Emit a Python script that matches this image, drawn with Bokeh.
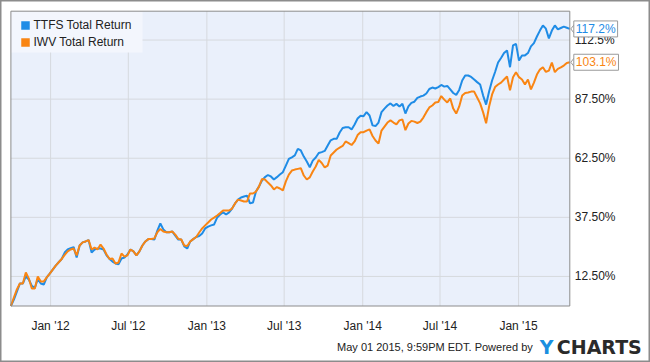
import pandas as pd
from bokeh.plotting import figure
from bokeh.models import Range1d, Label
from bokeh.core.properties import value
from bokeh.embed import file_html
from bokeh.resources import INLINE

# ---------------- data ----------------
start_date = "2011-09-30"   # weekly observations (Fridays)
series_names = ["TTFS Total Return", "IWV Total Return"]

ttfs = [0.0, 2.7, 6.1, 9.5, 9.5, 12.5, 11.2, 8.5, 7.6, 11.4,
        9.5, 9.1, 12.1, 13.7, 15.4, 17.1, 18.5, 19.9, 22.6, 23.9,
        24.5, 24.9, 20.5, 25.6, 26.9, 27.3, 27.9, 22.6, 23.9, 24.3,
        24.3, 23.9, 21.4, 19.9, 18.8, 18.0, 17.6, 20.1, 20.5, 21.8,
        23.9, 23.1, 21.4, 23.1, 25.6, 27.3, 28.3, 28.3, 28.1, 31.9,
        34.9, 32.4, 31.2, 31.2, 31.5, 29.8, 28.1, 28.1, 25.2, 24.3,
        27.3, 28.3, 29.2, 29.6, 30.7, 32.8, 33.6, 34.1, 34.5, 37.4,
        38.7, 39.6, 38.7, 39.6, 41.2, 43.4, 45.0, 45.9, 46.3, 46.7,
        43.4, 43.8, 48.4, 50.5, 53.1, 54.5, 55.4, 54.8, 53.5, 54.5,
        55.6, 56.6, 59.4, 62.2, 62.9, 63.7, 66.5, 65.8, 63.2, 61.1,
        58.7, 61.5, 62.8, 64.7, 65.1, 65.6, 67.9, 70.1, 70.7, 70.7,
        73.4, 75.3, 75.6, 75.6, 74.7, 76.8, 79.3, 80.5, 80.3, 82.0,
        80.6, 76.4, 76.1, 77.6, 82.0, 83.5, 84.8, 85.7, 84.6, 85.5,
        84.4, 85.5, 81.4, 84.4, 85.9, 86.4, 88.0, 88.6, 89.0, 89.9,
        91.8, 92.4, 92.0, 92.6, 93.5, 92.8, 93.1, 91.6, 90.1, 89.3,
        91.4, 95.4, 97.5, 97.5, 96.9, 95.8, 94.7, 93.7, 89.0, 85.2,
        90.7, 95.4, 99.0, 103.0, 104.9, 107.0, 108.1, 101.0, 110.2, 110.9,
        103.8, 106.0, 106.0, 107.0, 109.8, 111.2, 114.0, 116.5, 118.7, 117.3,
        113.2, 116.5, 118.7, 117.0, 117.6, 118.2, 117.7, 117.2]

iwv = [0.0, 3.6, 7.0, 9.5, 9.5, 14.2, 11.6, 7.4, 7.4, 12.5,
       10.4, 10.4, 12.1, 13.7, 15.4, 17.1, 18.5, 19.9, 21.6, 23.1,
       23.9, 24.3, 21.4, 25.6, 26.9, 27.3, 27.9, 23.9, 24.7, 23.9,
       26.0, 24.3, 21.8, 19.9, 20.1, 18.0, 18.4, 22.2, 20.9, 21.4,
       23.9, 23.1, 21.4, 23.1, 25.6, 27.3, 28.3, 28.3, 28.6, 31.2,
       32.6, 31.5, 31.2, 31.2, 31.5, 30.2, 28.4, 28.1, 25.6, 25.4,
       27.3, 28.3, 29.2, 31.1, 32.8, 34.1, 35.3, 36.6, 37.4, 38.3,
       39.3, 40.4, 40.4, 40.4, 41.2, 43.4, 45.0, 44.6, 44.2, 44.2,
       47.6, 47.6, 48.4, 50.5, 53.7, 53.5, 52.2, 51.0, 49.3, 50.3,
       49.7, 48.9, 52.7, 55.6, 57.3, 57.7, 58.0, 58.3, 55.2, 53.5,
       54.4, 56.9, 59.0, 61.8, 60.5, 58.6, 59.4, 63.7, 64.9, 66.2,
       67.0, 67.7, 69.6, 68.9, 68.1, 69.6, 72.3, 73.5, 73.5, 74.2,
       74.7, 71.9, 70.0, 68.7, 74.2, 75.9, 77.6, 78.5, 77.6, 76.8,
       78.5, 78.9, 74.4, 77.2, 78.3, 78.0, 77.4, 78.0, 79.7, 82.0,
       84.0, 84.8, 86.1, 86.3, 88.8, 87.3, 86.1, 87.8, 83.5, 81.4,
       84.4, 89.0, 90.1, 90.3, 90.7, 90.7, 88.2, 85.7, 81.9, 77.3,
       84.4, 89.5, 92.6, 93.7, 94.5, 95.8, 97.1, 91.2, 96.8, 98.9,
       96.8, 95.8, 93.7, 95.8, 91.6, 94.5, 97.9, 100.0, 101.0, 99.0,
       99.6, 103.0, 98.9, 100.3, 100.9, 101.7, 102.8, 103.1]

x_tick_dates = ["2012-01-01", "2012-07-01", "2013-01-01", "2013-07-01",
                "2014-01-01", "2014-07-01", "2015-01-01"]
x_tick_labels = ["Jan '12", "Jul '12", "Jan '13", "Jul '13", "Jan '14", "Jul '14", "Jan '15"]
y_ticks = [12.5, 37.5, 62.5, 87.5, 112.5]
y_tick_labels = ["12.50%", "37.50%", "62.50%", "87.50%", "112.5%"]
y_max = 124.7
footer_text = "May 01 2015, 9:59PM EDT.  Powered by"

# ---------------- layout / style ----------------
W, H = 650, 362
PX_LEFT, PX_RIGHT, PX_TOP, PX_BOTTOM = 10.4, 569.3, 10.7, 305.5   # plot area box in the canvas
BLUE = "#1f8ce6"
ORANGE = "#f98513"
FONT = "Liberation Sans"
TXT = "#222222"
GRID = "#d6d9de"
BORDER = "#8c8c8c"

dates = pd.date_range(start_date, periods=len(ttfs), freq="7D")
tick_dt = [pd.Timestamp(d) for d in x_tick_dates]

x0 = dates[0].timestamp() * 1000
x1 = dates[-1].timestamp() * 1000
ms_per_px = (x1 - x0) / (PX_RIGHT - PX_LEFT)
u_per_px = y_max / (PX_BOTTOM - PX_TOP)
x_range = Range1d(x0 - PX_LEFT * ms_per_px, x1 + (W - PX_RIGHT) * ms_per_px)
y_range = Range1d(0 - (H - PX_BOTTOM) * u_per_px, y_max + PX_TOP * u_per_px)


def at_px_x(px):   # canvas pixel column -> x data value
    return x_range.start + px * ms_per_px


def at_px_y(py):   # canvas pixel row -> y data value
    return y_range.end - py * u_per_px


p = figure(width=W, height=H, output_backend="svg", toolbar_location=None,
           x_axis_type="datetime", x_axis_location=None, y_axis_location=None,
           x_range=x_range, y_range=y_range,
           min_border=0, min_border_left=0, min_border_right=0,
           min_border_top=0, min_border_bottom=0)
p.grid.visible = False
p.background_fill_color = "white"
p.border_fill_color = "white"
p.outline_line_color = BORDER
p.outline_line_width = 2

# plot area
p.quad(left=[dates[0]], right=[dates[-1]], bottom=[0], top=[y_max],
       fill_color="#eaf0fb", line_color=None)
# grid
p.segment(x0=tick_dt, x1=tick_dt, y0=[0] * len(tick_dt), y1=[y_max] * len(tick_dt),
          line_color=GRID, line_width=1)
p.segment(x0=[dates[0]] * len(y_ticks), x1=[dates[-1]] * len(y_ticks), y0=y_ticks, y1=y_ticks,
          line_color=GRID, line_width=1)

# tick labels
p.text(x=[dates[-1]] * len(y_ticks), y=y_ticks, text=y_tick_labels, x_offset=5,
       text_baseline="middle", text_align="left", text_font=value(FONT),
       text_font_size="12px", text_color=TXT)
p.text(x=tick_dt, y=[0] * len(tick_dt), text=x_tick_labels, y_offset=20,
       text_baseline="middle", text_align="center", text_font=value(FONT),
       text_font_size="12px", text_color=TXT)

# series
p.line(dates, ttfs, line_color=BLUE, line_width=2)
p.line(dates, iwv, line_color=ORANGE, line_width=2)

# legend box (top-left inside the plot area)
p.quad(left=[dates[0]], right=[at_px_x(142)], top=[y_max], bottom=[at_px_y(52)],
       fill_color="#f3f6fd", line_color=None)
p.scatter(x=[at_px_x(25)] * 2, y=[at_px_y(25), at_px_y(42)], marker="square", size=8.5,
          color=[BLUE, ORANGE], line_color=None)
p.text(x=[at_px_x(33)] * 2, y=[at_px_y(24.5), at_px_y(41.5)], text=series_names,
       text_baseline="middle", text_align="left", text_font=value(FONT),
       text_font_size="12px", text_color=TXT)

# plot-area border
p.quad(left=[dates[0]], right=[dates[-1]], bottom=[0], top=[y_max],
       fill_color=None, line_color=BORDER, line_width=1)

# last-value tags with pointer
for vals, col in ((ttfs, BLUE), (iwv, ORANGE)):
    v = vals[-1]
    tip = dates[-1] + pd.Timedelta(milliseconds=1.0 * ms_per_px)
    base = dates[-1] + pd.Timedelta(milliseconds=4.5 * ms_per_px)
    p.patch(x=[tip, base, base], y=[v, v + 4.5 * u_per_px, v - 4.5 * u_per_px],
            fill_color="white", line_color="#9a9a9a", line_width=1)
    p.add_layout(Label(x=dates[-1], y=v, x_offset=4, text=f"{v:.1f}%",
                       text_color=col, text_font=FONT, text_font_size="12px",
                       text_baseline="middle", text_align="left",
                       background_fill_color="white", border_line_color="#9a9a9a",
                       padding=dict(left=2, right=2, top=1, bottom=1)))

# footer
p.add_layout(Label(x=dates[-1], y=0, x_offset=-34, y_offset=-40.5, text=footer_text,
                   text_font=FONT, text_font_size="11px", text_color=TXT,
                   text_align="right", text_baseline="middle"))
p.add_layout(Label(x=dates[-1], y=0, x_offset=-30, y_offset=-40.5, text="Y",
                   text_font="DejaVu Sans", text_font_style="bold", text_font_size="19px",
                   text_color="#1a8fe0", text_align="left", text_baseline="middle"))
p.add_layout(Label(x=dates[-1], y=0, x_offset=-13, y_offset=-40.5, text="CHARTS",
                   text_font="DejaVu Sans", text_font_style="bold", text_font_size="19px",
                   text_color="#2a2a2a", text_align="left", text_baseline="middle"))

open("out.html", "w").write(file_html(p, INLINE))
